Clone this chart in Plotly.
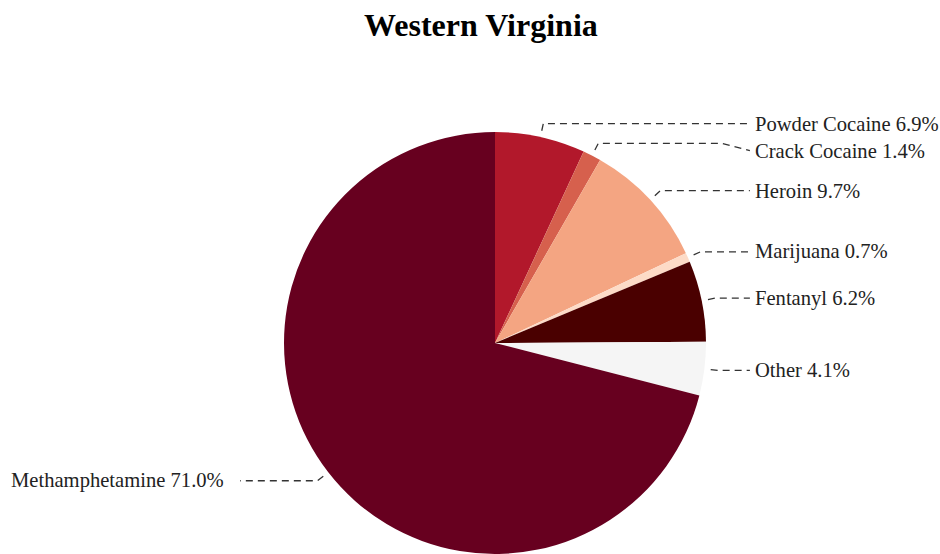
import math
import plotly.graph_objects as go

title_text = "Western Virginia"
labels = ["Powder Cocaine", "Crack Cocaine", "Heroin", "Marijuana", "Fentanyl", "Other", "Methamphetamine"]
values = [6.9, 1.4, 9.7, 0.7, 6.2, 4.1, 71.0]
colors = ["#b2182b", "#d6604d", "#f4a582", "#fddbc7", "#4a0000", "#f5f5f5", "#67001f"]

W, H = 940, 554
cx, cy, r = 495, 343, 211
FONT = "Liberation Serif, Times New Roman, serif"

def px(x):
    return x / W

def py(y):
    return 1 - y / H

fig = go.Figure()
fig.add_trace(go.Pie(
    labels=labels, values=values, sort=False, direction="clockwise", rotation=0,
    marker=dict(colors=colors, line=dict(width=0)),
    textinfo="none", hoverinfo="label+percent", showlegend=False,
    domain=dict(x=[px(cx - r), px(cx + r)], y=[max(0, py(cy + r)), py(cy - r)]),
))

total = sum(values)
cum = 0.0
items = []
for lab, v in zip(labels, values):
    mid = (cum + v / 2) / total
    cum += v
    th = 2 * math.pi * mid
    s, c = math.sin(th), math.cos(th)
    ax, ay = cx + 1.03 * r * s, cy - 1.03 * r * c
    bx, by = cx + 1.065 * r * s, cy - 1.065 * r * c
    side = 1 if s >= 0 else -1
    items.append(dict(lab=lab, v=v, ax=ax, ay=ay, bx=bx, by=by, side=side, ly=by))

# simple collision avoidance per side
for side in (1, -1):
    grp = sorted([it for it in items if it["side"] == side], key=lambda d: d["by"])
    prev = None
    for it in grp:
        if prev is not None and it["ly"] - prev < 27:
            it["ly"] = prev + 27
        prev = it["ly"]

shapes = []
annotations = []
for it in items:
    side = it["side"]
    ex = cx + side * 1.208 * r
    kx = ex - side * 28
    path = "M {} {} L {} {} L {} {} L {} {}".format(
        px(it["ax"]), py(it["ay"]), px(it["bx"]), py(it["by"]),
        px(kx), py(it["by"]), px(ex), py(it["ly"]))
    shapes.append(dict(type="path", path=path, xref="paper", yref="paper",
                       line=dict(color="#333333", width=1.3, dash="7px,5px")))
    tx = ex + (3 if side > 0 else -14)
    annotations.append(dict(
        x=px(tx), y=py(it["ly"]), xref="paper", yref="paper",
        text="{} {:.1f}%".format(it["lab"], it["v"]), showarrow=False,
        xanchor="left" if side > 0 else "right", yanchor="middle",
        font=dict(family=FONT, size=20.6, color="#222222")))

annotations.append(dict(
    x=px(480.5), y=py(25), xref="paper", yref="paper", text="<b>" + title_text + "</b>",
    showarrow=False, xanchor="center", yanchor="middle",
    font=dict(family=FONT, size=32, color="#000000")))

fig.update_layout(
    width=W, height=H, margin=dict(l=0, r=0, t=0, b=0),
    paper_bgcolor="white", plot_bgcolor="white",
    shapes=shapes, annotations=annotations,
)
fig.write_html(
    "out.html",
    config={"displayModeBar": False},
    post_script="document.body.style.margin='0';document.body.style.overflow='hidden';",
)
